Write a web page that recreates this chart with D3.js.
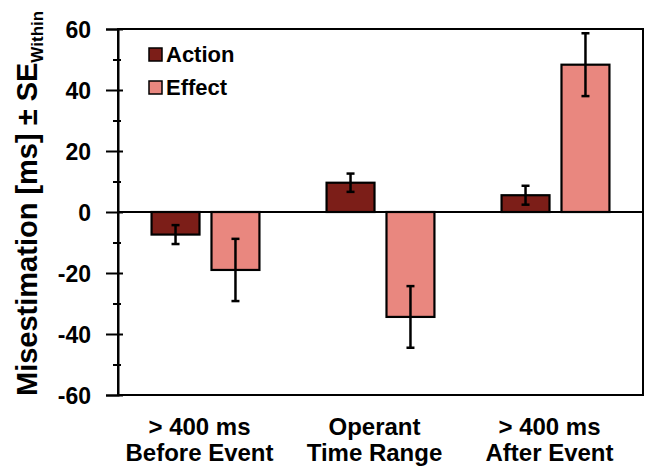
<!DOCTYPE html>
<html><head><meta charset="utf-8">
<script src="https://cdn.jsdelivr.net/npm/d3@7"></script>
<style>body{margin:0;background:#fff}svg{display:block}text{font-family:"Liberation Sans",Arial,sans-serif;font-weight:bold;fill:#000}</style>
</head><body>
<svg id="c" width="646" height="473"></svg>
<script>
const categories = [["> 400 ms","Before Event"],["Operant","Time Range"],["> 400 ms","After Event"]];
const seriesNames = ["Action","Effect"];
const actionValues = [-7.4, 9.6, 5.5];
const actionSE = [3.1, 3.0, 3.1];
const effectValues = [-19.0, -34.4, 48.3];
const effectSE = [10.2, 10.1, 10.3];
const yTicks = [-60,-40,-20,0,20,40,60];
const yMinorTicks = [-50,-30,-10,10,30,50];
const colors = {Action:"#7C1E18", Effect:"#E9877F"};

const L=118,R=643,T=29,B=395;
const svg=d3.select("#c");
const y=d3.scaleLinear().domain([-60,60]).range([B,T]);
const idx=d3.range(categories.length);
const x0=d3.scaleBand().domain(idx).range([L,R]).padding(0);
const x1=d3.scaleBand().domain(seriesNames).range([0,x0.bandwidth()]).paddingInner(0.2).paddingOuter(0.56);
const series={Action:{v:actionValues,se:actionSE},Effect:{v:effectValues,se:effectSE}};

// frame
svg.append("rect").attr("x",L).attr("y",T).attr("width",R-L).attr("height",B-T)
  .attr("fill","none").attr("stroke","#000").attr("stroke-width",2);

// bars
seriesNames.forEach(s=>{
  const g=svg.append("g");
  idx.forEach(i=>{
    const v=series[s].v[i], se=series[s].se[i];
    const bx=x0(i)+x1(s), bw=x1.bandwidth();
    g.append("rect").attr("x",bx).attr("y",y(Math.max(0,v))).attr("width",bw)
      .attr("height",Math.abs(y(v)-y(0))).attr("fill",colors[s]).attr("stroke","#000").attr("stroke-width",2.2);
    const cx=bx+bw/2;
    g.append("line").attr("x1",cx).attr("x2",cx).attr("y1",y(v-se)).attr("y2",y(v+se)).attr("stroke","#000").attr("stroke-width",2.5);
    [v-se,v+se].forEach(e=>g.append("line").attr("x1",cx-4).attr("x2",cx+4).attr("y1",y(e)).attr("y2",y(e)).attr("stroke","#000").attr("stroke-width",2.5));
  });
});

// zero line
svg.append("line").attr("x1",L).attr("x2",R).attr("y1",y(0)).attr("y2",y(0)).attr("stroke","#000").attr("stroke-width",2);

// y axis
const ax=svg.append("g").attr("transform",`translate(${L},0)`)
  .call(d3.axisLeft(y).tickValues(yTicks).tickSize(12).tickPadding(16).tickFormat(d=>String(d)));
ax.select(".domain").attr("stroke-width",2);
ax.selectAll(".tick line").attr("stroke-width",2).attr("x2",-12).attr("x1",5);
ax.selectAll(".tick text").style("font-size","23px").attr("x",-27).attr("dy","0.36em");
const mx=svg.append("g").attr("transform",`translate(${L},0)`)
  .call(d3.axisLeft(y).tickValues(yMinorTicks).tickSize(5).tickFormat(""));
mx.select(".domain").remove();
mx.selectAll(".tick line").attr("stroke-width",2).attr("x1",3);

// category labels (two lines each)
idx.forEach(i=>{
  const cx=x0(i)+x0.bandwidth()/2-6;
  svg.append("text").attr("text-anchor","middle").style("font-size","24px")
    .attr("x",cx).attr("y",435).text(categories[i][0]);
  svg.append("text").attr("text-anchor","middle").style("font-size","24px")
    .attr("x",cx).attr("y",461).text(categories[i][1]);
});

// y title
const yt=svg.append("text").attr("transform","translate(37,396) rotate(-90)").style("font-size","29px");
yt.append("tspan").text("Misestimation [ms] \u00B1 SE");
yt.append("tspan").attr("dy",6).style("font-size","17px").text("Within");

// legend
seriesNames.forEach((s,i)=>{
  const ly=48+i*33;
  svg.append("rect").attr("x",149).attr("y",ly).attr("width",13).attr("height",13)
    .attr("fill",colors[s]).attr("stroke","#000").attr("stroke-width",1.5);
  svg.append("text").attr("x",166).attr("y",ly+14).style("font-size","22px").text(s);
});
</script>
</body></html>
